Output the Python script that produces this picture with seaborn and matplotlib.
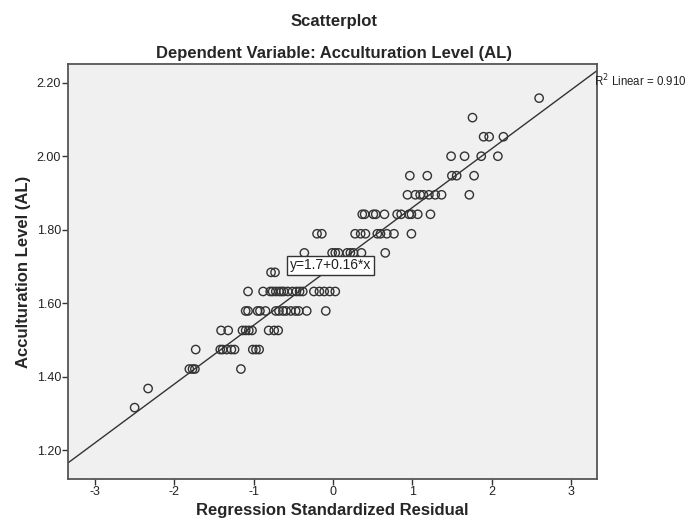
import numpy as np
import pandas as pd
import matplotlib
matplotlib.use("Agg")
import matplotlib.pyplot as plt
import seaborn as sns

# Acculturation level scores (discrete levels) and the standardized
# residuals observed at each level
al_levels = [2.158, 2.105, 2.053, 2.000, 1.947, 1.895, 1.842, 1.789,
             1.737, 1.684, 1.632, 1.579, 1.526, 1.474, 1.421, 1.368, 1.316]
residuals_by_level = [
    [2.60],
    [1.76],
    [1.90, 1.97, 2.15],
    [1.49, 1.66, 1.87, 2.08],
    [0.97, 1.19, 1.50, 1.56, 1.78],
    [0.94, 1.04, 1.10, 1.14, 1.21, 1.29, 1.37, 1.72],
    [0.37, 0.40, 0.51, 0.54, 0.65, 0.81, 0.86, 0.96, 0.99, 1.07, 1.23],
    [-0.20, -0.14, 0.28, 0.35, 0.41, 0.56, 0.60, 0.68, 0.77, 0.99],
    [-0.36, -0.01, 0.03, 0.07, 0.18, 0.22, 0.26, 0.36, 0.66],
    [-0.78, -0.73],
    [-1.07, -0.88, -0.79, -0.76, -0.72, -0.68, -0.65, -0.62, -0.57, -0.51,
     -0.46, -0.42, -0.38, -0.24, -0.17, -0.11, -0.04, 0.03],
    [-1.10, -1.07, -0.95, -0.92, -0.85, -0.72, -0.68, -0.63, -0.59, -0.53,
     -0.47, -0.43, -0.33, -0.09],
    [-1.41, -1.32, -1.14, -1.10, -1.06, -1.02, -0.81, -0.74, -0.69],
    [-1.73, -1.42, -1.39, -1.34, -1.28, -1.24, -1.01, -0.97, -0.93],
    [-1.81, -1.77, -1.74, -1.16],
    [-2.33],
    [-2.50],
]

# Fitted linear regression reported for the plot
fit_intercept = 1.7
fit_slope = 0.16
r2_linear = 0.910

x_ticks = [-3, -2, -1, 0, 1, 2, 3]
y_ticks = [1.20, 1.40, 1.60, 1.80, 2.00, 2.20]

rows = [(r, lvl) for lvl, vals in zip(al_levels, residuals_by_level) for r in vals]
df = pd.DataFrame(rows, columns=["resid", "al"])

sns.set_theme(style="ticks")
plt.rcParams["font.family"] = ["Liberation Sans", "DejaVu Sans"]

fig = plt.figure(figsize=(6.91, 5.20), dpi=100)
ax = fig.add_axes([0.0984, 0.079, 0.7656, 0.798])
ax.set_facecolor("#F0F0F0")

sns.scatterplot(data=df, x="resid", y="al", ax=ax, marker="o", s=36,
                facecolor="none", edgecolor="#333333", linewidth=1.0,
                zorder=3)

ax.axline((0, fit_intercept), slope=fit_slope, color="#333333", lw=1.0, zorder=2)

ax.set_xlim(-3.34, 3.33)
ax.set_ylim(1.122, 2.251)
ax.set_xticks(x_ticks)
ax.set_xticklabels([str(t) for t in x_ticks])
ax.set_yticks(y_ticks)
ax.set_yticklabels([f"{t:.2f}" for t in y_ticks])
ax.tick_params(axis="both", direction="out", length=4, width=1.0,
               color="#333333", labelsize=9, labelcolor="#222222", pad=1)

for sp in ax.spines.values():
    sp.set_visible(True)
    sp.set_color("#555555")
    sp.set_linewidth(1.3)

ax.set_xlabel("Regression Standardized Residual", fontsize=12,
              fontweight="bold", labelpad=4)
ax.set_ylabel("Acculturation Level (AL)", fontsize=12,
              fontweight="bold", labelpad=4)

fig.text(0.483, 0.958, "Scatterplot", ha="center", va="center",
         fontsize=12, fontweight="bold")
fig.text(0.483, 0.898, "Dependent Variable: Acculturation Level (AL)",
         ha="center", va="center", fontsize=12, fontweight="bold")

# Equation label on the fit line
ax.text(-0.03, 1.703, f"y={fit_intercept:g}+{fit_slope:g}*x", ha="center",
        va="center", fontsize=10, color="#222222", zorder=4,
        bbox=dict(boxstyle="square,pad=0.2", fc="white", ec="#333333", lw=1.0))

# R-squared annotation at the top-right corner
ax.text(0.995, 0.96, r"R$^2$ Linear = " + f"{r2_linear:.3f}",
        transform=ax.transAxes, ha="left", va="center", fontsize=8.3,
        color="#222222", clip_on=False)

fig.savefig("out.png", dpi=100)
